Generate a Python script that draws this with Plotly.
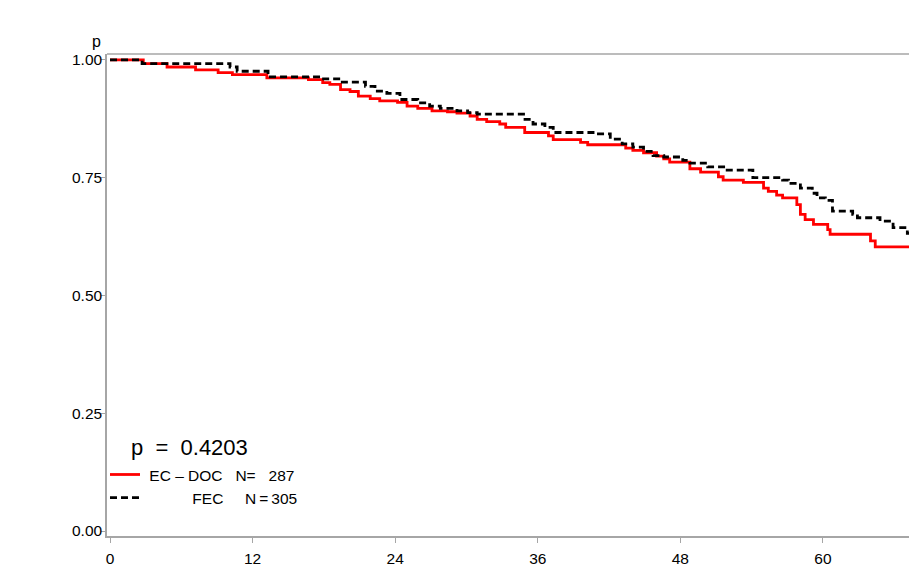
import plotly.graph_objects as go

# Kaplan-Meier estimates (months, survival probability)
months_ecdoc = [0, 2.8, 4.8, 7.2, 9.1, 10.3, 13.2, 16.7, 17.9, 18.5, 19.4, 20.2, 20.9,
                21.9, 22.7, 24.2, 25.0, 25.9, 27.1, 28.4, 29.2, 30.3, 30.9, 31.7, 32.8,
                33.3, 34.9, 36.9, 37.3, 39.6, 40.2, 43.4, 44.0, 44.9, 46.0, 46.6, 47.1,
                48.8, 49.7, 51.2, 51.6, 53.3, 55.0, 55.4, 56.1, 56.6, 57.8, 58.1, 58.5,
                59.2, 60.4, 60.6, 64.0, 64.4, 68.0]
surv_ecdoc = [1.000, 0.992, 0.985, 0.979, 0.973, 0.969, 0.962, 0.958, 0.952, 0.948, 0.937,
              0.933, 0.923, 0.918, 0.913, 0.910, 0.902, 0.897, 0.892, 0.890, 0.887, 0.881,
              0.874, 0.869, 0.864, 0.857, 0.846, 0.839, 0.831, 0.825, 0.820, 0.813, 0.808,
              0.803, 0.796, 0.790, 0.783, 0.769, 0.762, 0.752, 0.745, 0.740, 0.728, 0.721,
              0.713, 0.707, 0.693, 0.672, 0.661, 0.651, 0.640, 0.630, 0.616, 0.603, 0.603]

months_fec = [0, 2.7, 10.1, 10.7, 13.3, 17.7, 19.4, 21.5, 22.3, 23.3, 24.4, 25.9, 26.9,
              27.8, 29.2, 30.1, 30.9, 34.8, 35.6, 36.6, 37.3, 40.8, 42.1, 43.1, 44.0, 44.9,
              45.7, 46.6, 48.2, 48.8, 50.3, 51.8, 54.1, 56.6, 57.1, 58.1, 59.1, 59.5, 60.2,
              60.8, 62.5, 62.9, 64.8, 65.9, 67.1, 68.0]
surv_fec = [1.000, 0.992, 0.985, 0.976, 0.964, 0.960, 0.953, 0.944, 0.934, 0.929, 0.916,
            0.909, 0.902, 0.897, 0.892, 0.888, 0.885, 0.874, 0.864, 0.857, 0.846, 0.843,
            0.832, 0.822, 0.815, 0.806, 0.797, 0.794, 0.787, 0.781, 0.773, 0.766, 0.750,
            0.745, 0.738, 0.728, 0.717, 0.707, 0.702, 0.679, 0.672, 0.665, 0.658, 0.644,
            0.632, 0.632]

group_names = ["EC – DOC", "FEC"]
group_n = [287, 305]
p_value = 0.4203

x_ticks = [0, 12, 24, 36, 48, 60]
y_ticks = [0.0, 0.25, 0.5, 0.75, 1.0]
y_tick_text = ["0.00", "0.25", "0.50", "0.75", "1.00"]

NB = "\u00a0"
THIN = "\u2009"
FONT = "Liberation Sans, Arial, Helvetica, sans-serif"
AXIS_GREY = "#a6a6a6"
TICK_SIZE = 15.5

legend_labels = [
    f"{NB}{group_names[0]}{NB*3}N={NB*3}{group_n[0]}",
    f"{NB*11}{group_names[1]}{NB*5}N{THIN}={THIN}{group_n[1]}",
]

fig = go.Figure()
fig.add_trace(go.Scatter(
    x=months_ecdoc, y=surv_ecdoc, mode="lines", line_shape="hv",
    line=dict(color="#ff0000", width=2.8), name=legend_labels[0],
))
fig.add_trace(go.Scatter(
    x=months_fec, y=surv_fec, mode="lines", line_shape="hv",
    line=dict(color="#000000", width=2.8, dash="7px,4px"), name=legend_labels[1],
))

fig.update_layout(
    width=909, height=567,
    margin=dict(l=107, r=0, t=54, b=25),
    paper_bgcolor="white", plot_bgcolor="white",
    font=dict(family=FONT, color="black", size=TICK_SIZE),
    showlegend=True,
    legend=dict(
        x=-0.0025, y=0.162, xanchor="left", yanchor="top",
        bgcolor="rgba(0,0,0,0)", borderwidth=0,
        font=dict(size=15.5, family=FONT, color="black"),
        tracegroupgap=0, itemwidth=30,
    ),
    xaxis=dict(
        range=[-0.2525, 67.24], tickvals=x_ticks, ticktext=[str(t) for t in x_ticks],
        showgrid=False, zeroline=False, showline=True, linecolor=AXIS_GREY, linewidth=1.5,
        ticks="outside", ticklen=5, tickcolor=AXIS_GREY, tickwidth=1,
        ticklabelstandoff=3,
        tickfont=dict(size=TICK_SIZE, family=FONT, color="black"),
    ),
    yaxis=dict(
        range=[-0.0105, 1.0126], tickvals=y_ticks, ticktext=y_tick_text,
        showgrid=False, zeroline=False, showline=True, linecolor=AXIS_GREY, linewidth=1.5,
        ticks="outside", ticklen=4, tickcolor=AXIS_GREY, tickwidth=1,
        ticklabelstandoff=-4,
        tickfont=dict(size=TICK_SIZE, family=FONT, color="black"),
    ),
    annotations=[
        dict(text="p", xref="paper", yref="paper", x=-0.013, y=1.004,
             xanchor="center", yanchor="bottom", showarrow=False,
             font=dict(size=16, family=FONT, color="black")),
        dict(text=f"p{NB*2}={NB*2}{p_value:.4f}", xref="x", yref="y", x=1.6, y=0.177,
             xanchor="left", yanchor="middle", showarrow=False,
             font=dict(size=22, family=FONT, color="black")),
    ],
    shapes=[
        dict(type="line", xref="paper", yref="paper", x0=0, x1=1, y0=1, y1=1,
             line=dict(color=AXIS_GREY, width=1.5)),
    ],
)

fig.write_html("out.html")
